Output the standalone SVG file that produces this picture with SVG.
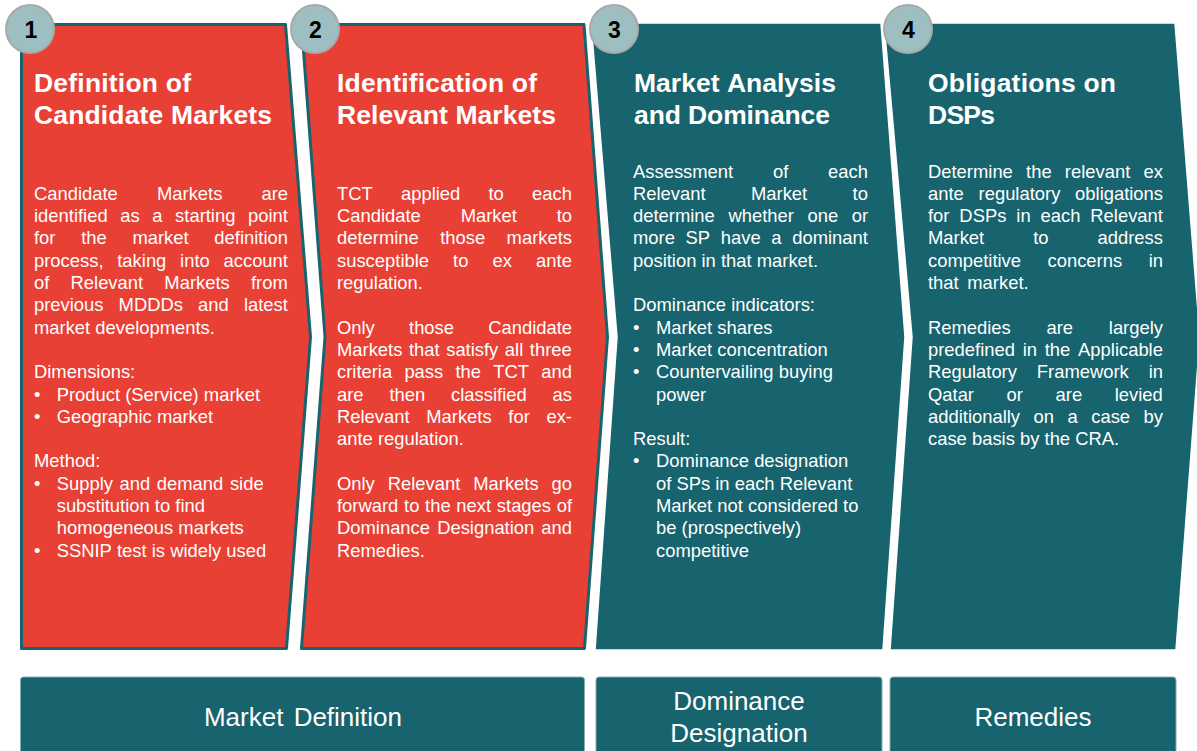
<svg xmlns="http://www.w3.org/2000/svg" width="1197" height="751" viewBox="0 0 1197 751">
  <style>
    .red { fill: #e84035; stroke: #17636e; stroke-width: 3; stroke-linejoin: round; }
    .teal { fill: #17636e; stroke: #ffffff; stroke-width: 1.5; stroke-linejoin: round; }
    .badge { fill: #9ebfc2; stroke: #a9a9a9; stroke-width: 2; }
    .num { font-family: "Liberation Sans", Arial, sans-serif; font-weight: bold; font-size: 23px; fill: #000000; text-anchor: middle; }
    .title { font-family: "Liberation Sans", Arial, sans-serif; font-weight: bold; font-size: 26.5px; fill: #ffffff; font-kerning: none; }
    .body { font-family: "Liberation Sans", Arial, sans-serif; font-size: 18.4px; fill: #ffffff; font-kerning: none; }
    .band { fill: #17636e; stroke: #86aab0; stroke-width: 1; }
    .band-label { font-family: "Liberation Sans", Arial, sans-serif; font-size: 26px; fill: #ffffff; text-anchor: middle; }
  </style>

  <rect width="1197" height="751" fill="#ffffff"/>

  <!-- Step 1 -->
  <g id="step-1">
    <path class="red" d="M21.5,24.5 L285.5,24.5 L310.5,337 L286.5,648.5 L21.5,648.5 Z"/>
    <circle class="badge" cx="30" cy="29" r="24"/>
    <text class="num" x="31" y="37.5">1</text>
    <text class="title" x="34" y="92" textLength="157" lengthAdjust="spacing">Definition of</text>
    <text class="title" x="34" y="124" textLength="238" lengthAdjust="spacing">Candidate Markets</text>
    <g class="body">
      <text x="34" y="199.8" word-spacing="34">Candidate Markets are</text>
      <text x="34" y="222.1" word-spacing="7.5">identified as a starting point</text>
      <text x="34" y="244.4" word-spacing="20.6">for the market definition</text>
      <text x="34" y="266.7" word-spacing="8.65">process, taking into account</text>
      <text x="34" y="289" word-spacing="16.1">of Relevant Markets from</text>
      <text x="34" y="311.3" word-spacing="10">previous MDDDs and latest</text>
      <text x="34" y="333.6">market developments.</text>
      <text x="34" y="378.2">Dimensions:</text>
      <text x="34" y="400.5">•</text><text x="56.7" y="400.5">Product (Service) market</text>
      <text x="34" y="422.8">•</text><text x="56.7" y="422.8">Geographic market</text>
      <text x="34" y="467.4">Method:</text>
      <text x="34" y="489.7">•</text><text x="56.7" y="489.7" word-spacing="1.5">Supply and demand side</text>
      <text x="56.7" y="512">substitution to find</text>
      <text x="56.7" y="534.3">homogeneous markets</text>
      <text x="34" y="556.6">•</text><text x="56.7" y="556.6">SSNIP test is widely used</text>
    </g>
  </g>

  <!-- Step 2 -->
  <g id="step-2">
    <path class="red" d="M301.5,24.5 L584,24.5 L607.5,337 L584.5,648.5 L301.5,648.5 L325,337 Z"/>
    <circle class="badge" cx="315" cy="29" r="24"/>
    <text class="num" x="315.5" y="37.5">2</text>
    <text class="title" x="337" y="92" textLength="200" lengthAdjust="spacing">Identification of</text>
    <text class="title" x="337" y="124" textLength="219" lengthAdjust="spacing">Relevant Markets</text>
    <g class="body">
      <text x="337" y="199.8" word-spacing="23.1">TCT applied to each</text>
      <text x="337" y="222.1" word-spacing="34.7">Candidate Market to</text>
      <text x="337" y="244.4" word-spacing="16.3">determine those markets</text>
      <text x="337" y="266.7" word-spacing="19">susceptible to ex ante</text>
      <text x="337" y="289">regulation.</text>
      <text x="337" y="333.6" word-spacing="29.1">Only those Candidate</text>
      <text x="337" y="355.9" word-spacing="1.45">Markets that satisfy all three</text>
      <text x="337" y="378.2" word-spacing="7.1">criteria pass the TCT and</text>
      <text x="337" y="400.5" word-spacing="20.75">are then classified as</text>
      <text x="337" y="422.8" word-spacing="11.55">Relevant Markets for ex-</text>
      <text x="337" y="445.1">ante regulation.</text>
      <text x="337" y="489.7" word-spacing="7.8">Only Relevant Markets go</text>
      <text x="337" y="512" word-spacing="0.6">forward to the next stages of</text>
      <text x="337" y="534.3" word-spacing="2">Dominance Designation and</text>
      <text x="337" y="556.6">Remedies.</text>
    </g>
  </g>

  <!-- Step 3 -->
  <g id="step-3">
    <path class="teal" d="M591,23 L881,23 L905,337 L883,650 L595,650 L617,337 Z"/>
    <circle class="badge" cx="614" cy="29" r="24"/>
    <text class="num" x="614.5" y="37.5">3</text>
    <text class="title" x="634" y="92" textLength="202" lengthAdjust="spacing">Market Analysis</text>
    <text class="title" x="634" y="124" textLength="196" lengthAdjust="spacing">and Dominance</text>
    <g class="body">
      <text x="633" y="177.5" word-spacing="34.7">Assessment of each</text>
      <text x="633" y="199.8" word-spacing="40.3">Relevant Market to</text>
      <text x="633" y="222.1" word-spacing="8.5">determine whether one or</text>
      <text x="633" y="244.4" word-spacing="5.55">more SP have a dominant</text>
      <text x="633" y="266.7">position in that market.</text>
      <text x="633" y="311.3">Dominance indicators:</text>
      <text x="633" y="333.6">•</text><text x="656" y="333.6">Market shares</text>
      <text x="633" y="355.9">•</text><text x="656" y="355.9">Market concentration</text>
      <text x="633" y="378.2">•</text><text x="656" y="378.2">Countervailing buying</text>
      <text x="656" y="400.5">power</text>
      <text x="633" y="445.1">Result:</text>
      <text x="633" y="467.4">•</text><text x="656" y="467.4">Dominance designation</text>
      <text x="656" y="489.7">of SPs in each Relevant</text>
      <text x="656" y="512">Market not considered to</text>
      <text x="656" y="534.3">be (prospectively)</text>
      <text x="656" y="556.6">competitive</text>
    </g>
  </g>

  <!-- Step 4 -->
  <g id="step-4">
    <path class="teal" d="M884,23 L1175,23 L1200,337 L1176,650 L890,650 L912,337 Z"/>
    <circle class="badge" cx="908" cy="29" r="24"/>
    <text class="num" x="908.5" y="37.5">4</text>
    <text class="title" x="928" y="92" textLength="188" lengthAdjust="spacing">Obligations on</text>
    <text class="title" x="928" y="124" textLength="67" lengthAdjust="spacing">DSPs</text>
    <g class="body">
      <text x="928" y="177.5" word-spacing="8.1">Determine the relevant ex</text>
      <text x="928" y="199.8" word-spacing="9.65">ante regulatory obligations</text>
      <text x="928" y="222.1" word-spacing="4.8">for DSPs in each Relevant</text>
      <text x="928" y="244.4" word-spacing="43.9">Market to address</text>
      <text x="928" y="266.7" word-spacing="21.4">competitive concerns in</text>
      <text x="928" y="289" word-spacing="3.5">that market.</text>
      <text x="928" y="333.6" word-spacing="30.6">Remedies are largely</text>
      <text x="928" y="355.9" word-spacing="2.65">predefined in the Applicable</text>
      <text x="928" y="378.2" word-spacing="14.8">Regulatory Framework in</text>
      <text x="928" y="400.5" word-spacing="27.5">Qatar or are levied</text>
      <text x="928" y="422.8" word-spacing="8.4">additionally on a case by</text>
      <text x="928" y="445.1">case basis by the CRA.</text>
    </g>
  </g>

  <!-- Phase bands along the bottom -->
  <g id="phase-market-definition">
    <rect class="band" x="20.5" y="677" width="564" height="80" rx="3"/>
    <text class="band-label" x="303" y="726" word-spacing="3">Market Definition</text>
  </g>
  <g id="phase-dominance-designation">
    <rect class="band" x="596" y="677" width="286" height="80" rx="3"/>
    <text class="band-label" x="739" y="710">Dominance</text>
    <text class="band-label" x="739" y="742">Designation</text>
  </g>
  <g id="phase-remedies">
    <rect class="band" x="890" y="677" width="286" height="80" rx="3"/>
    <text class="band-label" x="1033" y="726">Remedies</text>
  </g>
</svg>
